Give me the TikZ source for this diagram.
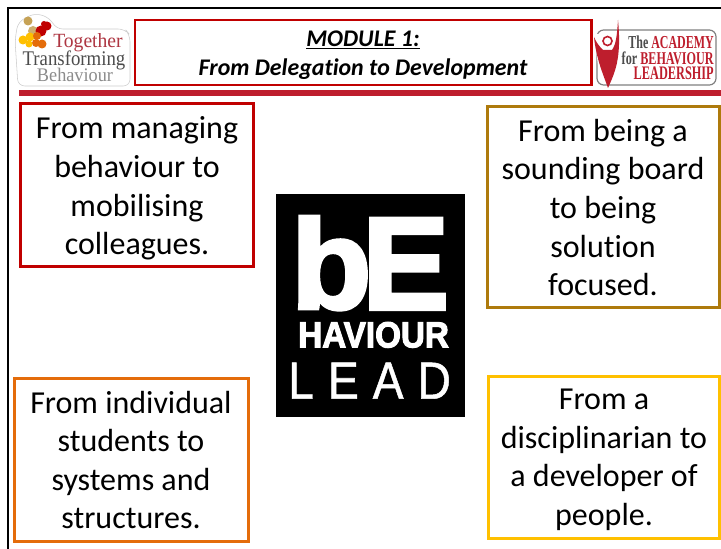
\documentclass[tikz,border=0pt]{standalone}
\usepackage{fontspec}
\usepackage{graphicx}
\setmainfont[Ligatures=NoCommon]{Carlito}
\newfontfamily\logosans{Liberation Sans}
\newfontfamily\logoserif{Liberation Serif}
\newfontfamily\heavysans[FakeBold=3]{Liberation Sans Bold}
\newfontfamily\midsans[FakeBold=1]{Liberation Sans}
\definecolor{cred}{HTML}{C00000}
\definecolor{lred}{HTML}{BE1E2D}
\definecolor{cbrown}{HTML}{AE7A0C}
\definecolor{corange}{HTML}{E46C0A}
\definecolor{cyellow}{HTML}{FFC000}
\tikzset{
  bodytext/.style={align=center,font=\fontsize{24}{28.9}\selectfont,text=black,inner sep=0pt},
  blockw/.style={inner sep=0pt,text=white},
}
\begin{document}
\begin{tikzpicture}[x=0.75pt,y=-0.75pt]
\useasboundingbox (0,0) rectangle (721,549);
\fill[white] (0,0) rectangle (721,549);
% outer frame
\draw[black,line width=1.6pt] (8.3,549) -- (8.3,8) -- (721,8);
% separator
\fill[lred] (19,90.5) rectangle (721,96.5);
% title
\draw[cred,line width=1.9pt] (135,20) rectangle (591.5,85);
\node[inner sep=0pt,align=center,font=\fontsize{17.9}{21.75}\selectfont\bfseries\itshape] (title) at (363,55) {\underline{MODULE 1:}\\From Delegation to Development};
% left logo
\draw[gray!40,line width=0.4pt,fill=white,rounded corners=5pt] (18,86) -- (15,40) -- (18,22) -- (35,13) -- (50,18) -- (56,29) -- (125,29) -- (130,35) -- (130,86) -- cycle;
\foreach \x/\y/\r/\cc in {28/21/4.5/cbrown!70,33/31/5/cbrown!60,47/26/4.5/cred,41/31/5.5/cred,44/24/3/cred,23/40/4.5/cyellow,30/37/4.5/cyellow,36/43/4/corange,42/44/4.5/corange,37/36/4/corange,29/44/3.5/cyellow}
  \fill[\cc] (\x,\y) circle[radius=\r];
\node[inner sep=0pt,text=lred!75!gray] (together) at (88,43) {\resizebox{52pt}{10.5pt}{\logoserif Together}};
\node[inner sep=0pt,text=black!70] (transforming) at (74,60) {\resizebox{77pt}{11pt}{\logoserif Transforming}};
\node[inner sep=0pt,text=black!45] (behaviour) at (75,75) {\resizebox{57pt}{10pt}{\logoserif Behaviour}};
% right logo
\draw[gray,line width=0.9pt,rounded corners=5pt] (597,30) rectangle (716,85);
\fill[white] (594,34) -- (620,34) -- (620,80) -- (600,80) -- cycle;
\fill[lred] (594,37) .. controls (596,58) and (603,74) .. (608,88) .. controls (614,74) and (622,60) .. (618,20) .. controls (617,36) and (616,44) .. (612,50) -- (603,50) .. controls (599,46) and (596,42) .. (594,37) -- cycle;
\fill[white] (607.5,41) circle[radius=7.5];
\draw[lred,line width=1.2pt] (607.5,41) circle[radius=4.5];
\node[inner sep=0pt,anchor=east,font=\logoserif\bfseries] (acad) at (714,42) {\resizebox{64pt}{9.5pt}{\textcolor{black!70}{The} \textcolor{lred}{ACADEMY}}};
\node[inner sep=0pt,anchor=east,font=\logoserif\bfseries] (beh) at (714,58) {\resizebox{69pt}{9.5pt}{\textcolor{black!70}{for} \textcolor{lred}{BEHAVIOUR}}};
\node[inner sep=0pt,anchor=east,font=\logoserif\bfseries,text=lred] (lead) at (714,73) {\resizebox{60pt}{9.5pt}{LEADERSHIP}};
% text boxes
\draw[cred,line width=2.25pt] (20,104) rectangle (253.5,266.5);
\node[bodytext] (a) at (137,188.5) {From managing\\behaviour to\\mobilising\\colleagues.};
\draw[cbrown,line width=2.25pt] (487,107) rectangle (719.5,307);
\node[bodytext] (b) at (603,207.5) {From being a\\sounding board\\to being\\solution\\focused.};
\draw[corange,line width=2.25pt] (14.3,378) rectangle (248,541.5);
\node[bodytext] (c) at (131,460) {From individual\\students to\\systems and\\structures.};
\draw[cyellow,line width=2.25pt] (488,376) rectangle (719.5,538.5);
\node[bodytext] (d) at (604,460) {From a\\disciplinarian to\\a developer of\\people.};
% central block
\fill[black] (276,194) rectangle (465,417);
\node[blockw,anchor=south west] (lb) at (291,310) {\resizebox{60pt}{69pt}{\heavysans b}};
\node[blockw,anchor=south west] (le) at (362,309.5) {\resizebox{65pt}{68pt}{\heavysans E}};
\node[blockw,anchor=south west] (hav) at (298,348) {\resizebox{113pt}{19pt}{\heavysans HAVIOUR}};
\node[blockw,anchor=south west] (ll) at (288,399) {\resizebox{122pt}{27pt}{\midsans L\hspace{0.3em}E\hspace{0.3em}A\hspace{0.3em}D}};
\end{tikzpicture}
\end{document}
